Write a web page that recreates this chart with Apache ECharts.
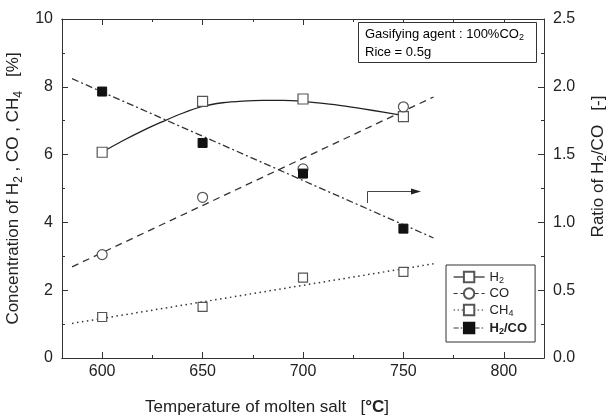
<!DOCTYPE html>
<html><head><meta charset="utf-8">
<script src="https://cdn.jsdelivr.net/npm/echarts@6/dist/echarts.min.js"></script>
<style>html,body{margin:0;padding:0;background:#fff}#c{width:612px;height:418px}</style>
</head><body><div id="c"></div>
<script>
// ---- data ----
const temps = [600, 650, 700, 750];
const h2 = [6.07, 7.57, 7.64, 7.12];
const co = [3.05, 4.74, 5.58, 7.41];
const ch4 = [1.21, 1.51, 2.37, 2.54];
const ratio = [1.965, 1.586, 1.36, 0.954];
// fitted curves/lines as drawn in the reference
const h2CurveT = [600, 610, 620, 630, 640, 650, 660, 670, 680, 690, 700, 710, 720, 730, 740, 750];
const h2CurveV = [6.07, 6.40, 6.70, 6.97, 7.22, 7.42, 7.53, 7.58, 7.60, 7.60, 7.57, 7.51, 7.44, 7.35, 7.25, 7.15];
const fitT = [585, 765];
const coFitV = [2.69, 7.70];
const ch4FitV = [1.02, 2.78];
const ratioFitV = [2.06, 0.885];
const xMajor = [600, 650, 700, 750, 800];
const xMinor = [625, 675, 725, 775];

const FONT = 'Liberation Sans';
const AX = '#333';
const pair = (t, v) => t.map((x, i) => [x, v[i]]);

const chart = echarts.init(document.getElementById('c'), null, {renderer: 'canvas'});

function xAx(pos, vals, len, labels, extra) {
  return Object.assign({
    type: 'value', min: 580, max: 820, position: pos,
    axisLine: {show: true, onZero: false, lineStyle: {color: AX, width: 1}},
    axisTick: {show: true, inside: true, length: len, customValues: vals, lineStyle: {color: AX}},
    axisLabel: labels ? {show: true, customValues: vals, margin: 6, color: '#222', fontSize: 16, fontFamily: FONT} : {show: false},
    splitLine: {show: false}
  }, extra || {});
}

const subRich = (size) => ({
  a: {fontSize: size, lineHeight: size + 3, fontFamily: FONT, color: '#222'},
  s: {fontSize: Math.round(size * 0.7), lineHeight: Math.round(size * 0.7), padding: [Math.round(size * 0.55), 0, 0, 0], fontFamily: FONT, color: '#222'},
  b: {fontSize: size, lineHeight: size + 3, fontFamily: FONT, color: '#222', fontWeight: 'bold'},
  sb: {fontSize: Math.round(size * 0.7), lineHeight: Math.round(size * 0.7), padding: [Math.round(size * 0.55), 0, 0, 0], fontFamily: FONT, color: '#222', fontWeight: 'bold'}
});

const legendNames = {
  'H2': '{a|H}{s|2}',
  'CO': '{a|CO}',
  'CH4': '{a|CH}{s|4}',
  'H2/CO': '{b|H}{sb|2}{b|/CO}'
};

const option = {
  animation: false,
  backgroundColor: '#fff',
  grid: {left: 62, right: 68, top: 19, bottom: 60, outerBoundsMode: 'none', containLabel: false},
  xAxis: [
    xAx('bottom', xMajor, 6, true, {
      name: 'Temperature of molten salt   [{c|°C}]', nameLocation: 'middle', nameGap: 41,
      nameTextStyle: {fontSize: 17, fontFamily: FONT, color: '#222', padding: [0, 72, 0, 0],
        rich: {c: {fontSize: 17, fontFamily: FONT, fontWeight: 'bold', color: '#222'}}}
    }),
    xAx('bottom', xMinor, 3, false),
    xAx('top', xMajor, 6, false),
    xAx('top', xMinor, 3, false)
  ],
  yAxis: [
    {
      type: 'value', min: 0, max: 10, interval: 2, position: 'left',
      axisLine: {show: true, lineStyle: {color: AX}},
      axisTick: {show: true, inside: true, length: 6, lineStyle: {color: AX}},
      minorTick: {show: true, splitNumber: 2, length: 3, lineStyle: {color: AX}},
      axisLabel: {margin: 9, color: '#222', fontSize: 16, fontFamily: FONT},
      splitLine: {show: false},
      name: '{a|Concentration of H}{s|2}{a| , CO , CH}{s|4}{a|   [%]}',
      nameLocation: 'middle', nameRotate: 90, nameGap: 31,
      nameTextStyle: {rich: subRich(17)}
    },
    {
      type: 'value', min: 0, max: 2.5, interval: 0.5, position: 'right',
      axisLine: {show: true, lineStyle: {color: AX}},
      axisTick: {show: true, inside: true, length: 6, lineStyle: {color: AX}},
      minorTick: {show: true, splitNumber: 2, length: 3, lineStyle: {color: AX}},
      axisLabel: {margin: 9, color: '#222', fontSize: 16, fontFamily: FONT, formatter: v => v.toFixed(1)},
      splitLine: {show: false},
      name: '{a|Ratio of H}{s|2}{a|/CO   [-]}',
      nameLocation: 'middle', nameRotate: 90, nameGap: 44,
      nameTextStyle: {rich: subRich(17), padding: [0, 0, 0, 44]}
    }
  ],
  legend: {
    orient: 'vertical', left: 446, top: 265,
    padding: [4, 8, 6, 7], itemGap: 2, itemWidth: 31, itemHeight: 13,
    borderColor: '#333', borderWidth: 1, backgroundColor: '#fff',
    formatter: n => legendNames[n],
    textStyle: {rich: subRich(13)},
    selectedMode: false,
    data: [
      {name: 'H2', lineStyle: {opacity: 1, type: 'solid', width: 1.2, color: '#222'}},
      {name: 'CO', lineStyle: {opacity: 1, type: [4, 3], width: 1, color: '#333'}},
      {name: 'CH4', lineStyle: {opacity: 1, type: [1.5, 2.5], width: 1, color: '#333'}},
      {name: 'H2/CO', lineStyle: {opacity: 1, type: [5, 2, 1.5, 2], width: 1, color: '#333'}}
    ]
  },
  graphic: [
    {type: 'rect', shape: {x: 358.5, y: 22.5, width: 178, height: 40}, style: {fill: '#fff', stroke: '#333', lineWidth: 1}, z: 10},
    {type: 'text', x: 365, y: 26, z: 11, style: {text: '{a|Gasifying agent : 100%CO}{s|2}', rich: subRich(13)}},
    {type: 'text', x: 365, y: 44, z: 11, style: {text: '{a|Rice = 0.5g}', rich: subRich(13)}},
    {type: 'polyline', shape: {points: [[367.5, 203], [367.5, 191.5], [412, 191.5]]}, style: {stroke: '#444', lineWidth: 1, fill: null}, z: 10},
    {type: 'polygon', shape: {points: [[411, 188.5], [421, 191.5], [411, 194.5]]}, style: {fill: '#222'}, z: 10}
  ],
  series: [
    {name: 'h2fit', type: 'line', smooth: 0.3, data: pair(h2CurveT, h2CurveV), showSymbol: false, silent: true,
      lineStyle: {color: '#222', width: 1.3, type: 'solid'}, z: 2},
    {name: 'cofit', type: 'line', data: pair(fitT, coFitV), showSymbol: false, silent: true,
      lineStyle: {color: '#333', width: 1.3, type: [7, 5]}, z: 2},
    {name: 'ch4fit', type: 'line', data: pair(fitT, ch4FitV), showSymbol: false, silent: true,
      lineStyle: {color: '#333', width: 1.5, type: [1.5, 3.5]}, z: 2},
    {name: 'ratiofit', type: 'line', yAxisIndex: 1, data: pair(fitT, ratioFitV), showSymbol: false, silent: true,
      lineStyle: {color: '#333', width: 1.3, type: [7, 3, 2, 3]}, z: 2},
    {name: 'H2', type: 'line', data: pair(temps, h2), symbol: 'rect', symbolSize: 10,
      itemStyle: {color: '#fff', borderColor: '#555', borderWidth: 1.2}, lineStyle: {opacity: 0}, z: 5},
    {name: 'CO', type: 'line', data: pair(temps, co), symbol: 'circle', symbolSize: 10,
      itemStyle: {color: '#fff', borderColor: '#555', borderWidth: 1.2}, lineStyle: {opacity: 0}, z: 5},
    {name: 'CH4', type: 'line', data: pair(temps, ch4), symbol: 'rect', symbolSize: 9,
      itemStyle: {color: '#fff', borderColor: '#555', borderWidth: 1.2}, lineStyle: {opacity: 0}, z: 5},
    {name: 'H2/CO', type: 'line', yAxisIndex: 1, data: pair(temps, ratio), symbol: 'rect', symbolSize: 9,
      itemStyle: {color: '#111', borderColor: '#111', borderWidth: 1}, lineStyle: {opacity: 0}, z: 5}
  ]
};
chart.setOption(option);
</script>
</body></html>
